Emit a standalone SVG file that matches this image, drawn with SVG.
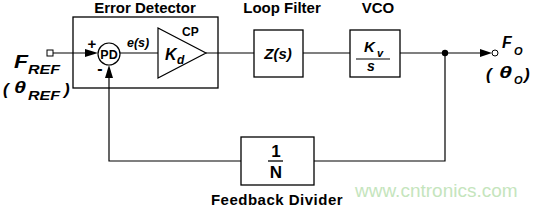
<svg xmlns="http://www.w3.org/2000/svg" width="539" height="208" viewBox="0 0 539 208">
<style>
.box{fill:#fff;stroke:#000;stroke-width:1.3}
.frame{fill:none;stroke:#000;stroke-width:1.3}
.ln{fill:none;stroke:#000;stroke-width:1.2}
.ah{fill:#000;stroke:none}
.t{font-family:"Liberation Sans",Arial,sans-serif;font-weight:bold;fill:#000}
.ti{font-family:"Liberation Sans",Arial,sans-serif;font-weight:bold;font-style:italic;fill:#000}
.c{text-anchor:middle}
</style>
<rect width="539" height="208" fill="#fff"/>

<g id="error-detector">
<rect class="frame" x="73" y="17" width="145" height="71"/>
<text class="t c" x="145" y="13" font-size="15">Error Detector</text>
</g>

<g id="connectors">
<line class="ln" x1="53" y1="53" x2="88" y2="53"/>
<polygon class="ah" points="85,49 98,53 85,57"/>
<line class="ln" x1="120" y1="53" x2="158" y2="53"/>
<line class="ln" x1="206" y1="53" x2="254" y2="53"/>
<line class="ln" x1="303" y1="53" x2="350" y2="53"/>
<line class="ln" x1="400" y1="53" x2="484" y2="53"/>
<polygon class="ah" points="480,49 492,53 480,57"/>
<polyline class="ln" points="445,53 445,161 314,161"/>
<polyline class="ln" points="241,161 109,161 109,75"/>
<polygon class="ah" points="105,78 109,65 113,78"/>
<circle cx="445" cy="53" r="3.2" fill="#000"/>
</g>

<g id="input">
<rect x="47" y="50" width="6" height="6" fill="#fff" stroke="#000" stroke-width="1"/>
<text class="ti" x="14" y="68" font-size="19" textLength="14" lengthAdjust="spacingAndGlyphs">F</text>
<text class="ti" x="28" y="74" font-size="13" textLength="32" lengthAdjust="spacingAndGlyphs">REF</text>
<text class="ti" x="3" y="95" font-size="17">(</text>
<text class="ti" x="14" y="93" font-size="16" textLength="12" lengthAdjust="spacingAndGlyphs">θ</text>
<text class="ti" x="28" y="100" font-size="13" textLength="32" lengthAdjust="spacingAndGlyphs">REF</text>
<text class="ti" x="64" y="95" font-size="17">)</text>
</g>

<g id="phase-detector">
<circle cx="109" cy="54" r="11" fill="#fff" stroke="#000" stroke-width="1.2"/>
<text class="t c" x="109" y="58.5" font-size="12.5">PD</text>
<text class="t c" x="92" y="49" font-size="15">+</text>
<text class="t c" x="100" y="74" font-size="16">-</text>
<text class="ti" x="127" y="47" font-size="12.5">e(s)</text>
</g>

<g id="charge-pump">
<polygon points="158,28 158,78 206,53" fill="#fff" stroke="#000" stroke-width="1.2"/>
<text class="t" x="182" y="36" font-size="12">CP</text>
<text class="ti" x="165" y="60" font-size="16">K</text>
<text class="ti" x="177" y="64" font-size="12">d</text>
</g>

<g id="loop-filter">
<rect class="box" x="254" y="30" width="49" height="47"/>
<text class="t c" x="282" y="13" font-size="15">Loop Filter</text>
<text class="ti c" x="278" y="59" font-size="15">Z(s)</text>
</g>

<g id="vco">
<rect class="box" x="350" y="30" width="50" height="47"/>
<text class="t c" x="378" y="13" font-size="15">VCO</text>
<text class="ti" x="364" y="52" font-size="15">K</text>
<text class="ti" x="377" y="57" font-size="11">v</text>
<line x1="356" y1="59" x2="390" y2="59" stroke="#000" stroke-width="1.2"/>
<text class="ti c" x="371" y="71" font-size="14">s</text>
</g>

<g id="output">
<circle cx="495" cy="53" r="3" fill="#fff" stroke="#000" stroke-width="1"/>
<text class="ti" x="502" y="48" font-size="16">F</text>
<text class="ti" x="514" y="55" font-size="11">O</text>
<text class="ti" x="486" y="80" font-size="17">(</text>
<text class="ti" x="499" y="78" font-size="16" textLength="13" lengthAdjust="spacingAndGlyphs">θ</text>
<text class="ti" x="514" y="84" font-size="11">O</text>
<text class="ti" x="524" y="80" font-size="17">)</text>
</g>

<g id="feedback-divider">
<rect class="box" x="241" y="137" width="73" height="48"/>
<text class="t c" x="276" y="157" font-size="17">1</text>
<line x1="268" y1="161" x2="283" y2="161" stroke="#000" stroke-width="1.3"/>
<text class="t c" x="276" y="178" font-size="17">N</text>
<text class="t c" x="277" y="205" font-size="15" letter-spacing="0.5">Feedback Divider</text>
</g>

<text x="355" y="197" font-family="Liberation Sans,Arial,sans-serif" font-size="19" fill="#c5e5bd">www.cntronics.com</text>
</svg>
